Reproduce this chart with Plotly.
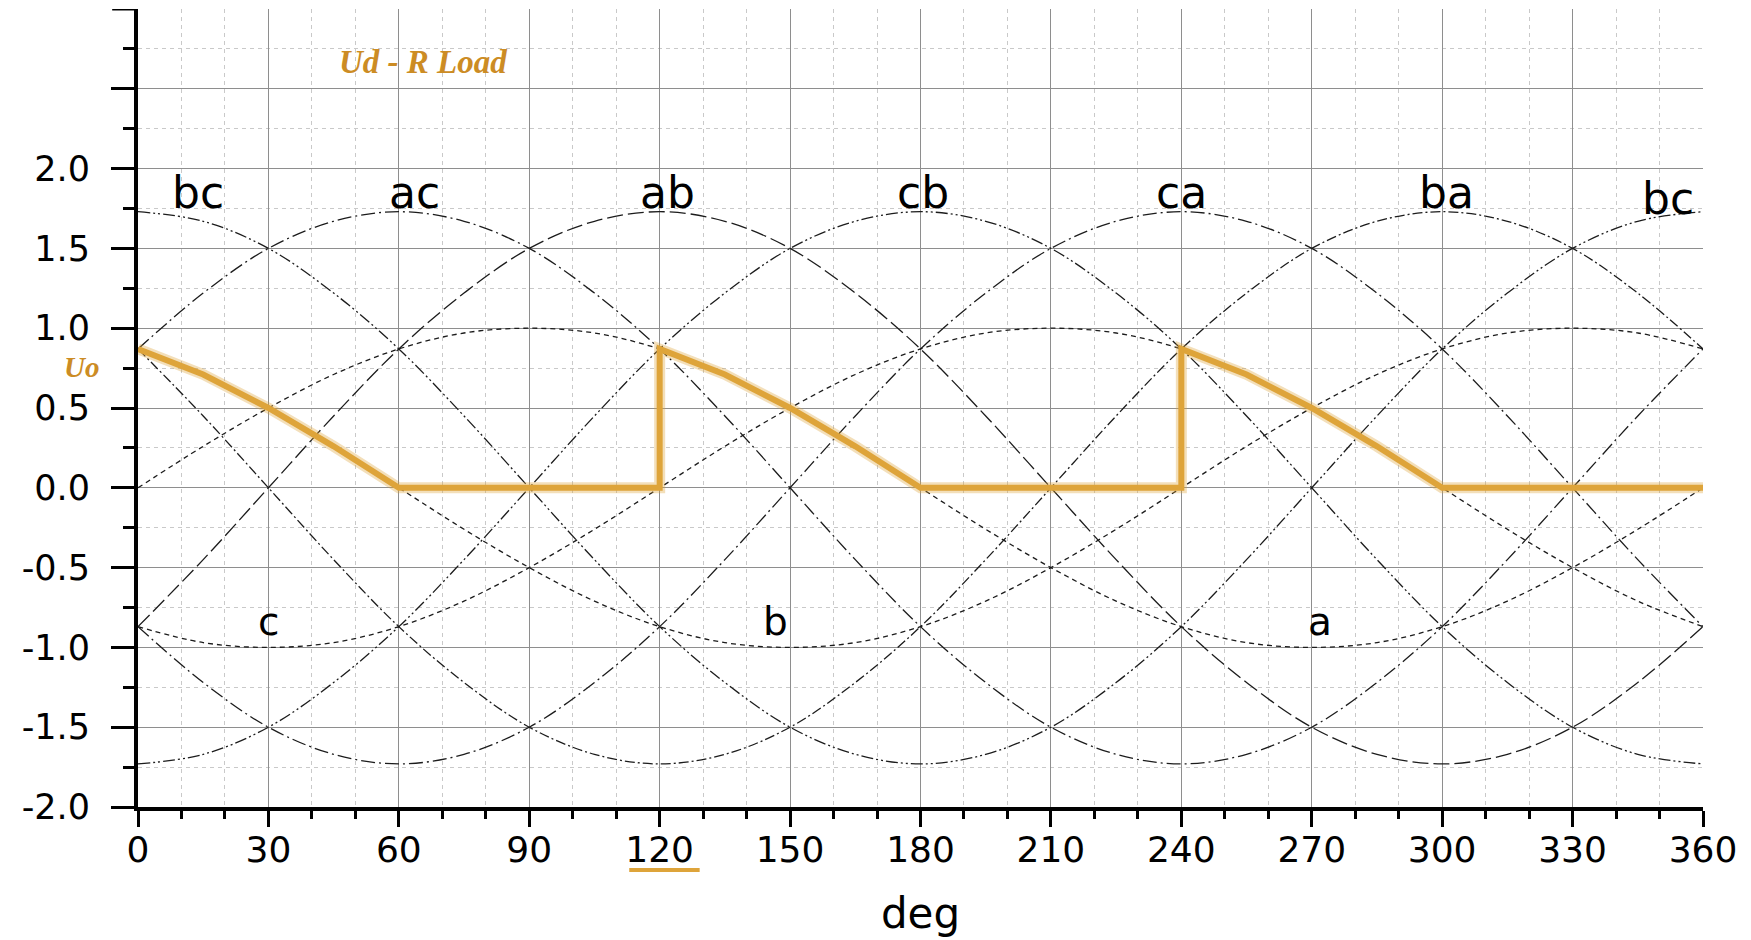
import plotly.graph_objects as go

# Angle axis (electrical degrees)
deg = [0, 15, 30, 45, 60, 75, 90, 105, 120, 135, 150, 165, 180,
       195, 210, 225, 240, 255, 270, 285, 300, 315, 330, 345, 360]

# Phase voltages (p.u.)
ua = [0, 0.26, 0.5, 0.71, 0.87, 0.97, 1, 0.97, 0.87, 0.71, 0.5, 0.26, 0,
      -0.26, -0.5, -0.71, -0.87, -0.97, -1, -0.97, -0.87, -0.71, -0.5, -0.26, 0]
ub = [0.87, 0.71, 0.5, 0.26, 0, -0.26, -0.5, -0.71, -0.87, -0.97, -1, -0.97, -0.87,
      -0.71, -0.5, -0.26, 0, 0.26, 0.5, 0.71, 0.87, 0.97, 1, 0.97, 0.87]
uc = [-0.87, -0.97, -1, -0.97, -0.87, -0.71, -0.5, -0.26, 0, 0.26, 0.5, 0.71, 0.87,
      0.97, 1, 0.97, 0.87, 0.71, 0.5, 0.26, 0, -0.26, -0.5, -0.71, -0.87]

# Line-to-line voltages (p.u.)
ubc = [1.73, 1.67, 1.5, 1.22, 0.87, 0.45, 0, -0.45, -0.87, -1.22, -1.5, -1.67, -1.73,
       -1.67, -1.5, -1.22, -0.87, -0.45, 0, 0.45, 0.87, 1.22, 1.5, 1.67, 1.73]
ucb = [-1.73, -1.67, -1.5, -1.22, -0.87, -0.45, 0, 0.45, 0.87, 1.22, 1.5, 1.67, 1.73,
       1.67, 1.5, 1.22, 0.87, 0.45, 0, -0.45, -0.87, -1.22, -1.5, -1.67, -1.73]
uac = [0.87, 1.22, 1.5, 1.67, 1.73, 1.67, 1.5, 1.22, 0.87, 0.45, 0, -0.45, -0.87,
       -1.22, -1.5, -1.67, -1.73, -1.67, -1.5, -1.22, -0.87, -0.45, 0, 0.45, 0.87]
uca = [-0.87, -1.22, -1.5, -1.67, -1.73, -1.67, -1.5, -1.22, -0.87, -0.45, 0, 0.45, 0.87,
       1.22, 1.5, 1.67, 1.73, 1.67, 1.5, 1.22, 0.87, 0.45, 0, -0.45, -0.87]
uab = [-0.87, -0.45, 0, 0.45, 0.87, 1.22, 1.5, 1.67, 1.73, 1.67, 1.5, 1.22, 0.87,
       0.45, 0, -0.45, -0.87, -1.22, -1.5, -1.67, -1.73, -1.67, -1.5, -1.22, -0.87]
uba = [0.87, 0.45, 0, -0.45, -0.87, -1.22, -1.5, -1.67, -1.73, -1.67, -1.5, -1.22, -0.87,
       -0.45, 0, 0.45, 0.87, 1.22, 1.5, 1.67, 1.73, 1.67, 1.5, 1.22, 0.87]

# Rectified output voltage Ud with resistive load
ud_deg = [0, 15, 30, 45, 60, 120, 120, 135, 150, 165, 180, 240, 240,
          255, 270, 285, 300, 360]
ud_val = [0.87, 0.71, 0.5, 0.26, 0, 0, 0.87, 0.71, 0.5, 0.26, 0, 0, 0.87,
          0.71, 0.5, 0.26, 0, 0]

# Curve labels
line_labels = ["bc", "ac", "ab", "cb", "ca", "ba", "bc"]
line_label_x = [13.7, 63.6, 121.9, 180.5, 240.1, 300.9, 352]
line_label_y = [1.85, 1.85, 1.85, 1.85, 1.85, 1.85, 1.81]
phase_labels = ["c", "b", "a"]
phase_label_x = [30, 146.7, 272]
phase_label_y = [-0.84, -0.84, -0.84]

x_ticks = list(range(0, 361, 30))
y_ticks = [-2.0, -1.5, -1.0, -0.5, 0.0, 0.5, 1.0, 1.5, 2.0, 2.5]
y_ticktext = [f"{v:.1f}" for v in y_ticks[:-1]] + [""]
y_minor = [-1.75, -1.25, -0.75, -0.25, 0.25, 0.75, 1.25, 1.75, 2.25, 2.75]
y_top = 3.0

ORANGE = "rgb(222,164,58)"
TEXT_ORANGE = "rgb(204,140,36)"
INK = "#1c1c1c"
SANS = "DejaVu Sans, Arial, sans-serif"
SERIF = "Liberation Serif, Times New Roman, serif"

fig = go.Figure()

phase_style = dict(color=INK, width=1.3, dash="5px,4px", shape="spline")
for y in (ua, ub, uc):
    fig.add_trace(go.Scatter(x=deg, y=y, mode="lines", line=phase_style,
                             hoverinfo="skip", showlegend=False))

line_dashes = {
    "bc": "12px,3px,2px,3px,2px,3px",
    "cb": "12px,3px,2px,3px,2px,3px",
    "ac": "14px,4px,2px,4px",
    "ca": "14px,4px,2px,4px",
    "ab": "16px,5px",
    "ba": "10px,3px,2px,3px",
}
for name, y in (("bc", ubc), ("cb", ucb), ("ac", uac), ("ca", uca),
                ("ab", uab), ("ba", uba)):
    fig.add_trace(go.Scatter(x=deg, y=y, mode="lines",
                             line=dict(color=INK, width=1.3,
                                       dash=line_dashes[name], shape="spline"),
                             hoverinfo="skip", showlegend=False))

# Ud: soft halo under a solid stroke
fig.add_trace(go.Scatter(x=ud_deg, y=ud_val, mode="lines",
                         line=dict(color="rgba(222,164,58,0.35)", width=11),
                         hoverinfo="skip", showlegend=False))
fig.add_trace(go.Scatter(x=ud_deg, y=ud_val, mode="lines",
                         line=dict(color=ORANGE, width=6),
                         hoverinfo="skip", showlegend=False))

for t, x, y in zip(line_labels, line_label_x, line_label_y):
    fig.add_annotation(x=x, y=y, text=t, showarrow=False,
                       font=dict(family=SANS, size=44, color="black"))
for t, x, y in zip(phase_labels, phase_label_x, phase_label_y):
    fig.add_annotation(x=x, y=y, text=t, showarrow=False,
                       font=dict(family=SANS, size=39, color="black"))

fig.add_annotation(x=65.5, y=2.67, text="<b><i>Ud - R Load</i></b>", showarrow=False,
                   font=dict(family=SERIF, size=33, color=TEXT_ORANGE))
fig.add_annotation(xref="paper", x=-0.036, xanchor="center", y=0.76,
                   yanchor="middle", text="<b><i>Uo</i></b>", showarrow=False,
                   font=dict(family=SERIF, size=29, color=TEXT_ORANGE))

# underline mark beneath the 120° tick label
fig.add_shape(type="line", xref="x", yref="paper", x0=113, x1=129.2,
              y0=-0.079, y1=-0.079,
              line=dict(color=ORANGE, width=4))

# closing tick at the top end of the vertical axis
fig.add_shape(type="line", xref="paper", yref="y", x0=-0.0165, x1=-0.001,
              y0=y_top, y1=y_top, line=dict(color="black", width=3))

fig.update_layout(
    width=1751, height=940,
    margin=dict(l=138, r=48, t=9, b=133),
    plot_bgcolor="white", paper_bgcolor="white",
    showlegend=False,
    xaxis=dict(
        range=[0, 360], tickmode="array", tickvals=x_ticks,
        ticks="outside", ticklen=16, tickwidth=3, tickcolor="black",
        showline=True, linewidth=4, linecolor="black",
        showgrid=True, gridcolor="#8e8e8e", gridwidth=1.2, zeroline=False,
        minor=dict(dtick=10, tick0=0, ticks="outside", ticklen=8, tickwidth=3,
                   tickcolor="black", showgrid=True, gridcolor="#c9c9c9",
                   griddash="4px,4px", gridwidth=1),
        tickfont=dict(family=SANS, size=36, color="black"),
        ticklabelstandoff=-8,
        title=dict(text="deg", font=dict(family=SANS, size=42, color="black"),
                   standoff=30),
    ),
    yaxis=dict(
        range=[-2, y_top], tickmode="array", tickvals=y_ticks, ticktext=y_ticktext,
        ticks="outside", ticklen=23, tickwidth=3, tickcolor="black",
        showline=True, linewidth=4, linecolor="black",
        showgrid=True, gridcolor="#8e8e8e", gridwidth=1.2, zeroline=False,
        minor=dict(tickmode="array", tickvals=y_minor, ticks="outside", ticklen=11,
                   tickwidth=3, tickcolor="black", showgrid=True,
                   gridcolor="#c9c9c9", griddash="4px,4px", gridwidth=1),
        tickfont=dict(family=SANS, size=35, color="black"),
        ticklabelstandoff=14,
    ),
)

fig.write_html("out.html")
